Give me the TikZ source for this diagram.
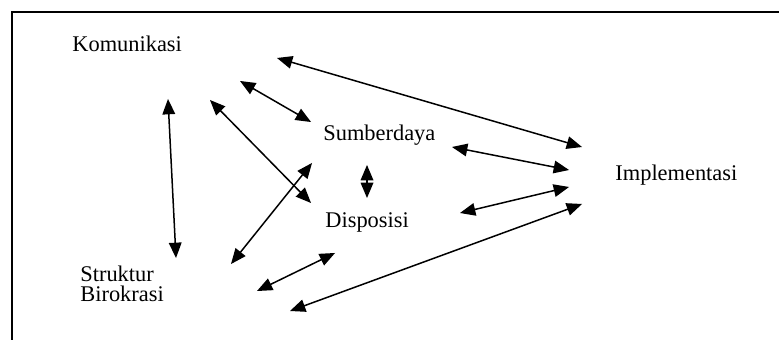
\documentclass[tikz,border=0pt]{standalone}
\usepackage{fontspec}
\setmainfont{Liberation Serif}
\usetikzlibrary{arrows}

\begin{document}
\begin{tikzpicture}[>=triangle 45,x=0.5pt,y=-0.5pt,
        factor/.style={anchor=base west,inner sep=0pt,font=\fontsize{11.2}{10}\selectfont},
        link/.style={<->,line width=0.75pt}]
        \useasboundingbox (0,0) rectangle (779,340);

        % Factors.
        \node[factor] (kom) at (72,52) {Komunikasi};
        \node[factor] (sum) at (323,141) {Sumberdaya};
        \node[factor] (dis) at (325,228) {Disposisi};
        \node[factor] (imp) at (615,181) {Implementasi};
        \node[factor,align=left] (str) at (80,302) {Struktur\\Birokrasi};

        % Arrow ends.
        \coordinate (k1) at (277,58);   \coordinate (i1) at (582,147);
        \coordinate (k2) at (240,81);   \coordinate (s1) at (311,122);
        \coordinate (k3) at (168,99);   \coordinate (b1) at (176,258);
        \coordinate (k4) at (210,100);  \coordinate (d1) at (311,203);
        \coordinate (b2) at (231,264);  \coordinate (s2) at (312,163);
        \coordinate (s3) at (367,165);  \coordinate (d2) at (367,198);
        \coordinate (s4) at (452,147);  \coordinate (i2) at (569,170);
        \coordinate (d3) at (460,213);  \coordinate (i3) at (569,187);
        \coordinate (b3) at (257,291);  \coordinate (d4) at (335,253);
        \coordinate (b4) at (290,311);  \coordinate (i4) at (582,204);

        % Connections.
        \draw[link] (k1) -- (i1);
        \draw[link] (k2) -- (s1);
        \draw[link] (k3) -- (b1);
        \draw[link] (k4) -- (d1);
        \draw[link] (b2) -- (s2);
        \draw[link] (s3) -- (d2);
        \draw[link] (s4) -- (i2);
        \draw[link] (d3) -- (i3);
        \draw[link] (b3) -- (d4);
        \draw[link] (b4) -- (i4);

        % Frame.
        \draw[line width=0.6pt] (779,12) -- (12,12) -- (12,340);
\end{tikzpicture}
\end{document}
